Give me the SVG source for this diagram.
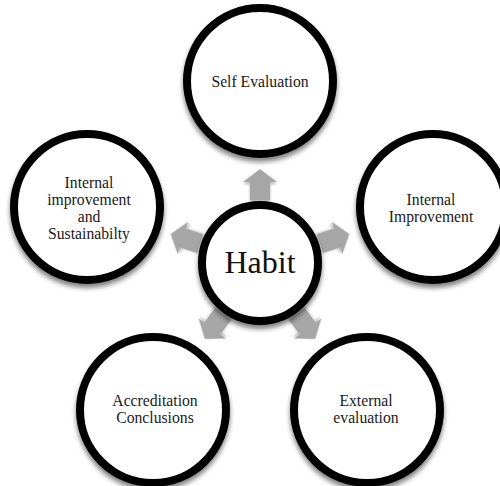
<svg xmlns="http://www.w3.org/2000/svg" width="500" height="486" viewBox="0 0 500 486">
<style>
.node{fill:#fff;stroke:#000;stroke-width:8;filter:url(#sh)}
.lbl{font-family:"Liberation Serif","Times New Roman",serif;font-size:15.7px;fill:#1a1a1a;text-anchor:middle}
.arrow{fill:#a6a6a6;filter:url(#sh2)}
</style>
<defs>
<filter id="sh" x="-20%" y="-20%" width="140%" height="150%">
<feGaussianBlur in="SourceAlpha" stdDeviation="2.5"/>
<feOffset dx="0" dy="4" result="b"/>
<feComponentTransfer><feFuncA type="linear" slope="0.5"/></feComponentTransfer>
<feMerge><feMergeNode/><feMergeNode in="SourceGraphic"/></feMerge>
</filter>
<filter id="sh2" x="-30%" y="-30%" width="160%" height="160%">
<feGaussianBlur in="SourceAlpha" stdDeviation="1.5"/>
<feOffset dx="0" dy="2" result="b"/>
<feComponentTransfer><feFuncA type="linear" slope="0.3"/></feComponentTransfer>
<feMerge><feMergeNode/><feMergeNode in="SourceGraphic"/></feMerge>
</filter>
<polygon id="arr" points="0,-94 17,-81 10,-81 10,-63 -10,-63 -10,-81 -17,-81"/>
</defs>
<g id="connectors">
<use href="#arr" class="arrow" transform="translate(260,263) rotate(0)"/>
<use href="#arr" class="arrow" transform="translate(260,263) rotate(72)"/>
<use href="#arr" class="arrow" transform="translate(260,263) rotate(144)"/>
<use href="#arr" class="arrow" transform="translate(260,263) rotate(216)"/>
<use href="#arr" class="arrow" transform="translate(260,263) rotate(288)"/>
</g>
<g id="habit">
<circle class="node" cx="260" cy="263" r="58"/>
<text x="260" y="273" font-family="Liberation Serif, Times New Roman, serif" font-size="32" fill="#111" text-anchor="middle">Habit</text>
</g>
<g id="self-evaluation">
<circle class="node" cx="260" cy="81" r="73"/>
<text class="lbl" x="260" y="87">Self Evaluation</text>
</g>
<g id="internal-improvement">
<circle class="node" cx="433" cy="207" r="73"/>
<text class="lbl" x="431" y="205">Internal</text>
<text class="lbl" x="431" y="222">Improvement</text>
</g>
<g id="external-evaluation">
<circle class="node" cx="367" cy="410" r="73"/>
<text class="lbl" x="366" y="406">External</text>
<text class="lbl" x="366" y="423">evaluation</text>
</g>
<g id="accreditation-conclusions">
<circle class="node" cx="153" cy="410" r="73"/>
<text class="lbl" x="155" y="406">Accreditation</text>
<text class="lbl" x="155" y="423">Conclusions</text>
</g>
<g id="internal-sustainability">
<circle class="node" cx="87" cy="207" r="73"/>
<text class="lbl" x="89" y="188">Internal</text>
<text class="lbl" x="89" y="205">improvement</text>
<text class="lbl" x="89" y="222">and</text>
<text class="lbl" x="89" y="239">Sustainabilty</text>
</g>
</svg>
